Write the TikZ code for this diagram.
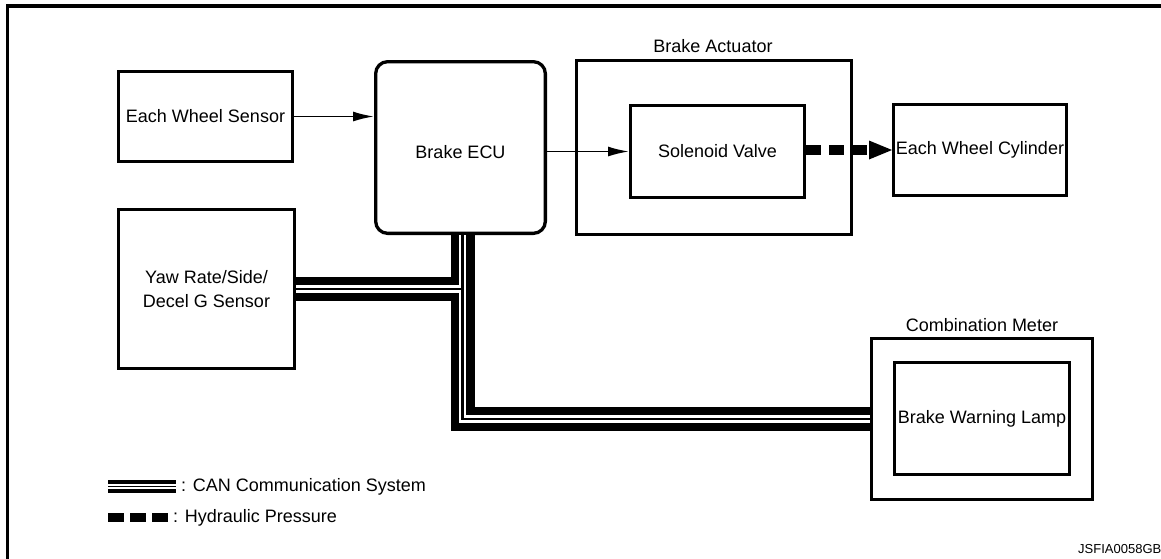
\documentclass[tikz,border=0pt]{standalone}
\usepackage{fontspec}
\setmainfont{Liberation Sans}
\usetikzlibrary{calc,arrows.meta}
\begin{document}
\begin{tikzpicture}[x=1pt,y=-1pt,
  box/.style={draw, line width=3.1pt, inner sep=0pt, align=center, font=\fontsize{18}{23.5}\selectfont},
  lbl/.style={inner sep=0pt, font=\fontsize{18}{21.6}\selectfont},
  sig/.style={line width=1.8pt, -{Latex[length=21pt,width=10pt]}},
  canA/.style={line width=24pt, line join=miter, black},
  canB/.style={line width=7.4pt, line join=miter, white},
  canC/.style={line width=2.4pt, line join=miter, black},
  hyd/.style={line width=10pt, dash pattern=on 15pt off 8pt},
]
\useasboundingbox (0,0) rectangle (1161,558);
\draw[line width=3.2pt] (7.3,560) -- (7.3,6) -- (1165,6);

\node[box, minimum width=173.9pt, minimum height=89.9pt] (ews) at (205.5,116.5) {Each Wheel Sensor};
\node[box, rounded corners=12pt, line width=3.3pt, minimum width=169.7pt, minimum height=171.7pt] (ecu) at (460.5,147.5) {};
\node[lbl] (ecut) at ($(ecu.center)+(0,4.5)$) {Brake ECU};
\node[box, minimum width=175.9pt, minimum height=158.9pt] (yaw) at (206.5,289) {Yaw Rate/Side/\\Decel G Sensor};
\node[box, minimum width=274.9pt, minimum height=173.9pt] (act) at (714,147.5) {};
\node[lbl] (actl) at (713,46) {Brake Actuator};
\node[box, minimum width=173.9pt, minimum height=91.9pt] (sol) at (717.5,151.5) {Solenoid Valve};
\node[box, minimum width=172.9pt, minimum height=90.9pt] (ewc) at (980,150) {Each Wheel Cylinder};
\node[box, minimum width=220.9pt, minimum height=160.9pt] (meter) at (982,419) {};
\node[lbl] (meterl) at (982,325) {Combination Meter};
\node[box, minimum width=174.9pt, minimum height=111.9pt] (lamp) at (982,418.5) {Brake Warning Lamp};

% signal arrows
\draw[sig] (ews.east) -- (ews.east -| ecu.west);
\draw[sig] (ecu.east |- sol.west) -- (sol.west);

% hydraulic
\coordinate (hs) at (sol.east |- ewc.west);
\coordinate (he) at ($(ewc.west)+(-23,0)$);
\draw[hyd] (hs) -- (he);
\fill ($(ewc.west)+(-23,-9.5)$) -- (ewc.west) -- ($(ewc.west)+(-23,9.5)$) -- cycle;

% CAN bus
\coordinate (bt) at ($(ecu.south)+(2,0)$);
\coordinate (bc) at (bt |- meter.west);
\coordinate (bj) at (bt |- yaw.east);
\foreach \st in {canA,canB,canC}{
  \draw[\st] (bt) -- (bc) -- (meter.west);
  \draw[\st] (yaw.east) -- (bj);
}

% legend
\coordinate (l1) at (108,486.5);
\coordinate (l2) at (176,486.5);
\draw[line width=13pt] (l1) -- (l2);
\draw[line width=4.8pt, white] (l1) -- (l2);
\draw[line width=1.5pt] (l1) -- (l2);
\node[lbl, anchor=west] (canl) at (181,486.5) {: CAN Communication System};
\coordinate (h1) at (108,517.5);
\coordinate (h2) at (168,517.5);
\draw[line width=9.5pt, dash pattern=on 16pt off 6pt] (h1) -- (h2);
\node[lbl, anchor=west] (hydl) at (173,517.5) {: Hydraulic Pressure};

\node[inner sep=0pt, anchor=base west, font=\fontsize{13}{15}\selectfont] (code) at (1078,553) {JSFIA0058GB};
\end{tikzpicture}
\end{document}
